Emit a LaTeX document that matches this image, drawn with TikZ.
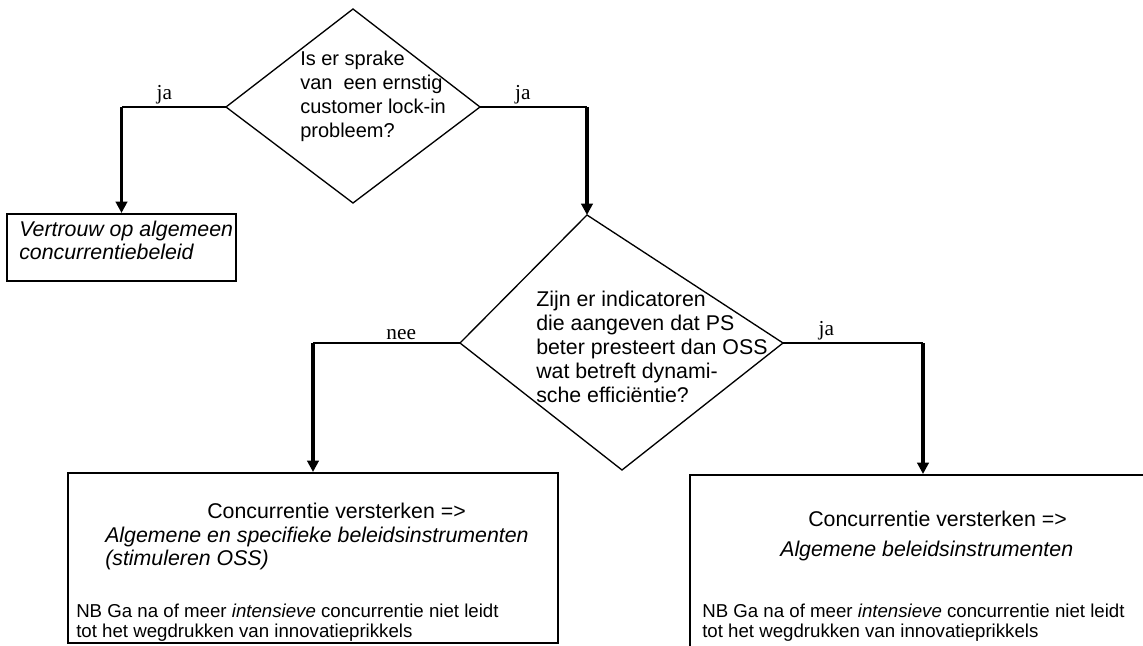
\documentclass[tikz,border=0pt]{standalone}
\usepackage{fontspec}
\setmainfont{Liberation Serif}
\setsansfont{Liberation Sans}
\usetikzlibrary{arrows.meta}

\begin{document}
\begin{tikzpicture}[x=0.75pt, y=-0.75pt, >={Triangle[length=8.5pt, width=8.5pt]},
    question/.style={line width=1pt, line join=miter},
    branch/.style={line width=1.4pt},
    drop/.style={->, line width=2.4pt},
    outcome/.style={draw, line width=1.5pt, rectangle, inner sep=0pt},
    answer/.style={above, inner sep=1.5pt, font=\fontsize{16}{18}\selectfont},
    body/.style={anchor=base west, inner sep=0pt, font=\sffamily\fontsize{16}{18}\selectfont},
    note/.style={anchor=base west, inner sep=0pt, font=\sffamily\fontsize{14}{16}\selectfont}]

  \clip (0,0) rectangle (1143,646);
  \fill [white] (0,0) rectangle (1143,646);

  \foreach \n/\x/\y in {n/353/9, e/480/107, s/353/203, w/226/107}
    \coordinate (lockin-\n) at (\x,\y);
  \foreach \n/\x/\y in {n/587/215, e/783/343, s/622/470, w/460/343}
    \coordinate (perf-\n) at (\x,\y);

  \draw [question] (lockin-n) -- (lockin-e) -- (lockin-s) -- (lockin-w) -- cycle;
  \draw [question] (perf-n) -- (perf-e) -- (perf-s) -- (perf-w) -- cycle;

  \node [outcome, minimum width=171.75pt, minimum height=50.25pt] (general) at (121.5,247.5) {};
  \node [outcome, minimum width=367.5pt, minimum height=127.5pt] (specific) at (313,558) {};
  \node [outcome, minimum width=349.5pt, minimum height=135pt] (broad) at (923,565) {};

  \foreach \l [count=\i] in {Is er sprake, van\ \ een ernstig, customer lock-in, probleem?}
    \node [body, font=\sffamily\fontsize{15}{18}\selectfont] (lockin-text-\i) at (300,41+24*\i) {\l};

  \foreach \l [count=\i] in {Zijn er indicatoren, die aangeven dat PS, beter presteert dan OSS,
      wat betreft dynami-, sche efficiëntie?}
    \node [body] (perf-text-\i) at (536,282+24*\i) {\l};

  \foreach \l [count=\i] in {Vertrouw op algemeen, concurrentiebeleid}
    \node [body] (general-text-\i) at (19,213+23*\i) {\textit{\l}};

  \node [body] (specific-head) at (207,518) {Concurrentie versterken =>};
  \foreach \l [count=\i] in {Algemene en specifieke beleidsinstrumenten, {(stimuleren OSS)}}
    \node [body] (specific-tool-\i) at (105,519+23*\i) {\textit{\l}};

  \node [body] (broad-head) at (808,526) {Concurrentie versterken =>};
  \node [body] (broad-tool) at (780,556) {\textit{Algemene beleidsinstrumenten}};

  \foreach \b/\x in {specific/76, broad/702}
    \foreach \l [count=\i] in {NB Ga na of meer \textit{intensieve} concurrentie niet leidt,
        tot het wegdrukken van innovatieprikkels}
      \node [note] (\b-nb-\i) at (\x,597+20*\i) {\l};

  \draw [branch] (lockin-w) -- node [answer, pos=0.59] {ja} (lockin-w -| general.north);
  \draw [drop] (lockin-w -| general.north) -- (general.north);
  \draw [branch] (lockin-e) -- node [answer, pos=0.4] {ja} (lockin-e -| perf-n);
  \draw [drop] (lockin-e -| perf-n) -- (perf-n);
  \draw [branch] (perf-w) -- node [answer, pos=0.4] {nee} (perf-w -| specific.north);
  \draw [drop] (perf-w -| specific.north) -- (specific.north);
  \draw [branch] (perf-e) -- node [answer, pos=0.31] {ja} (perf-e -| broad.north);
  \draw [drop] (perf-e -| broad.north) -- (broad.north);

\end{tikzpicture}
\end{document}
